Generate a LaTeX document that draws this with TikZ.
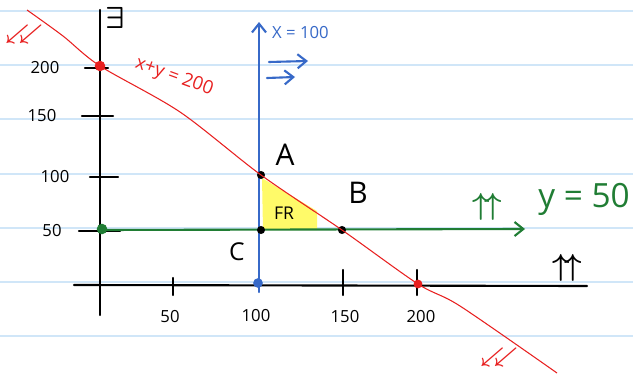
\documentclass[tikz,border=0pt]{standalone}
\usepackage{fontspec}
\setmainfont{Open Sans}
\usetikzlibrary{arrows.meta}
\definecolor{ruled}{RGB}{208,230,248}
\definecolor{penred}{RGB}{232,32,32}
\definecolor{penblue}{RGB}{55,105,200}
\definecolor{pengreen}{RGB}{32,125,52}
\definecolor{hilite}{RGB}{255,250,105}
\tikzset{
  dot/.style={circle,fill,inner sep=0pt,minimum size=4.6pt},
  pen/.style={line width=1.2pt,line cap=round},
  barb/.style={-{Straight Barb[length=5pt,width=8pt]}},
  hand/.style={font=\fontsize{9.5}{9.5}\selectfont},
  twin/.style={inner sep=0pt,font=\fontsize{17}{17}\selectfont\boldmath},
  down/.style={inner sep=0pt,penred,font=\fontsize{13}{13}\selectfont\boldmath}
}

\begin{document}
\begin{tikzpicture}[x=0.02cm,y=-0.02cm]
  \useasboundingbox (0,0) rectangle (633,382);
  \fill[white] (0,0) rectangle (633,382);
  \foreach \y in {11,65,119,174,228,282,336}
    \draw[ruled,line width=0.8pt] (0,\y) -- (633,\y);

  % feasible region
  \fill[hilite] (262,178) -- (317,211) -- (317,230) -- (263,230) -- cycle;
  \node[font=\fontsize{10}{10}\selectfont] (fr) at (284,213) {FR};

  % axes
  \coordinate (ytop) at (100,10);
  \coordinate (ybot) at (100,315);
  \coordinate (xleft) at (74,285);
  \coordinate (xright) at (587,286);
  \draw[pen] (ytop) -- (ybot);
  \draw[pen] (xleft) -- (xright);
  \node[inner sep=0pt,font=\fontsize{16}{16}\selectfont\boldmath] (ylab) at (115,18) {$\exists$};
  \node[twin] (xlab) at (567,268) {$\uparrow\!\uparrow$};

  \foreach \v/\y/\a/\b/\lx in {50/231/79/120/52,100/177/90/118/55,150/116/82/113/42,200/68/85/108/45} {
    \draw[pen] (\a,\y) -- (\b,\y);
    \node[hand] at (\lx,\y) {\v};
  }
  \foreach \v/\x/\t/\lx in {50/173/278/170,150/343/270/345,200/417/270/421} {
    \draw[pen] (\x,\t) -- (\x,295);
    \node[hand] at (\lx,317) {\v};
  }
  \node[hand] (l100) at (256,316) {100};

  % x = 100
  \coordinate (bbot) at (259,292);
  \coordinate (btop) at (259,22);
  \draw[pen,penblue,barb] (bbot) -- (btop);
  \node[hand,penblue,anchor=west] (blab) at (266,33) {X = 100};
  \coordinate (b1s) at (269,62);
  \coordinate (b1e) at (308,61);
  \coordinate (b2s) at (267,78);
  \coordinate (b2e) at (295,77);
  \draw[pen,penblue,barb] (b1s) -- (b1e);
  \draw[pen,penblue,barb] (b2s) -- (b2e);
  \node[dot,penblue,minimum size=5.5pt] (bx) at (258,283) {};

  % y = 50
  \coordinate (gl) at (100,230);
  \coordinate (gr) at (525,229);
  \draw[pen,pengreen,barb] (gl) -- (gr);
  \node[twin,pengreen] (gup) at (487,207) {$\uparrow\!\uparrow$};
  \node[pengreen,font=\fontsize{19}{19}\selectfont] (glab) at (584,199) {y = 50};
  \node[dot,pengreen,minimum size=6pt] (gy) at (102,229) {};

  % x + y = 200
  \node[dot] (A) at (261,175) {};
  \node[dot] (B) at (342,230) {};
  \node[dot] (C) at (261,230) {};
  \coordinate (r0) at (27,10);
  \coordinate (r1) at (63,36);
  \coordinate (r2) at (180,112);
  \coordinate (r3) at (460,306);
  \coordinate (r4) at (557,373);
  \node[dot,penred,minimum size=6pt] (ry) at (100,66) {};
  \node[dot,penred,minimum size=5pt] (rx) at (418,284) {};
  \draw[penred,line width=0.6pt] plot[smooth,tension=0.5] coordinates
    {(r0) (r1) (ry.center) (r2) (A.center) (B.center) (rx.center) (r3) (r4)};
  \node[penred,rotate=-20,inner sep=0pt,font=\fontsize{10.5}{10.5}\selectfont] (rlab) at (174,77) {x+y = 200};
  \node[down] (rdn1) at (24,34) {$\swarrow\mkern-8mu\swarrow$};
  \node[down] (rdn2) at (499,357) {$\swarrow\mkern-8mu\swarrow$};

  \node[font=\fontsize{17}{17}\selectfont] (Alab) at (285,155) {A};
  \node[font=\fontsize{17}{17}\selectfont] (Blab) at (358,193) {B};
  \node[font=\fontsize{14}{14}\selectfont] (Clab) at (237,252) {C};
\end{tikzpicture}
\end{document}
